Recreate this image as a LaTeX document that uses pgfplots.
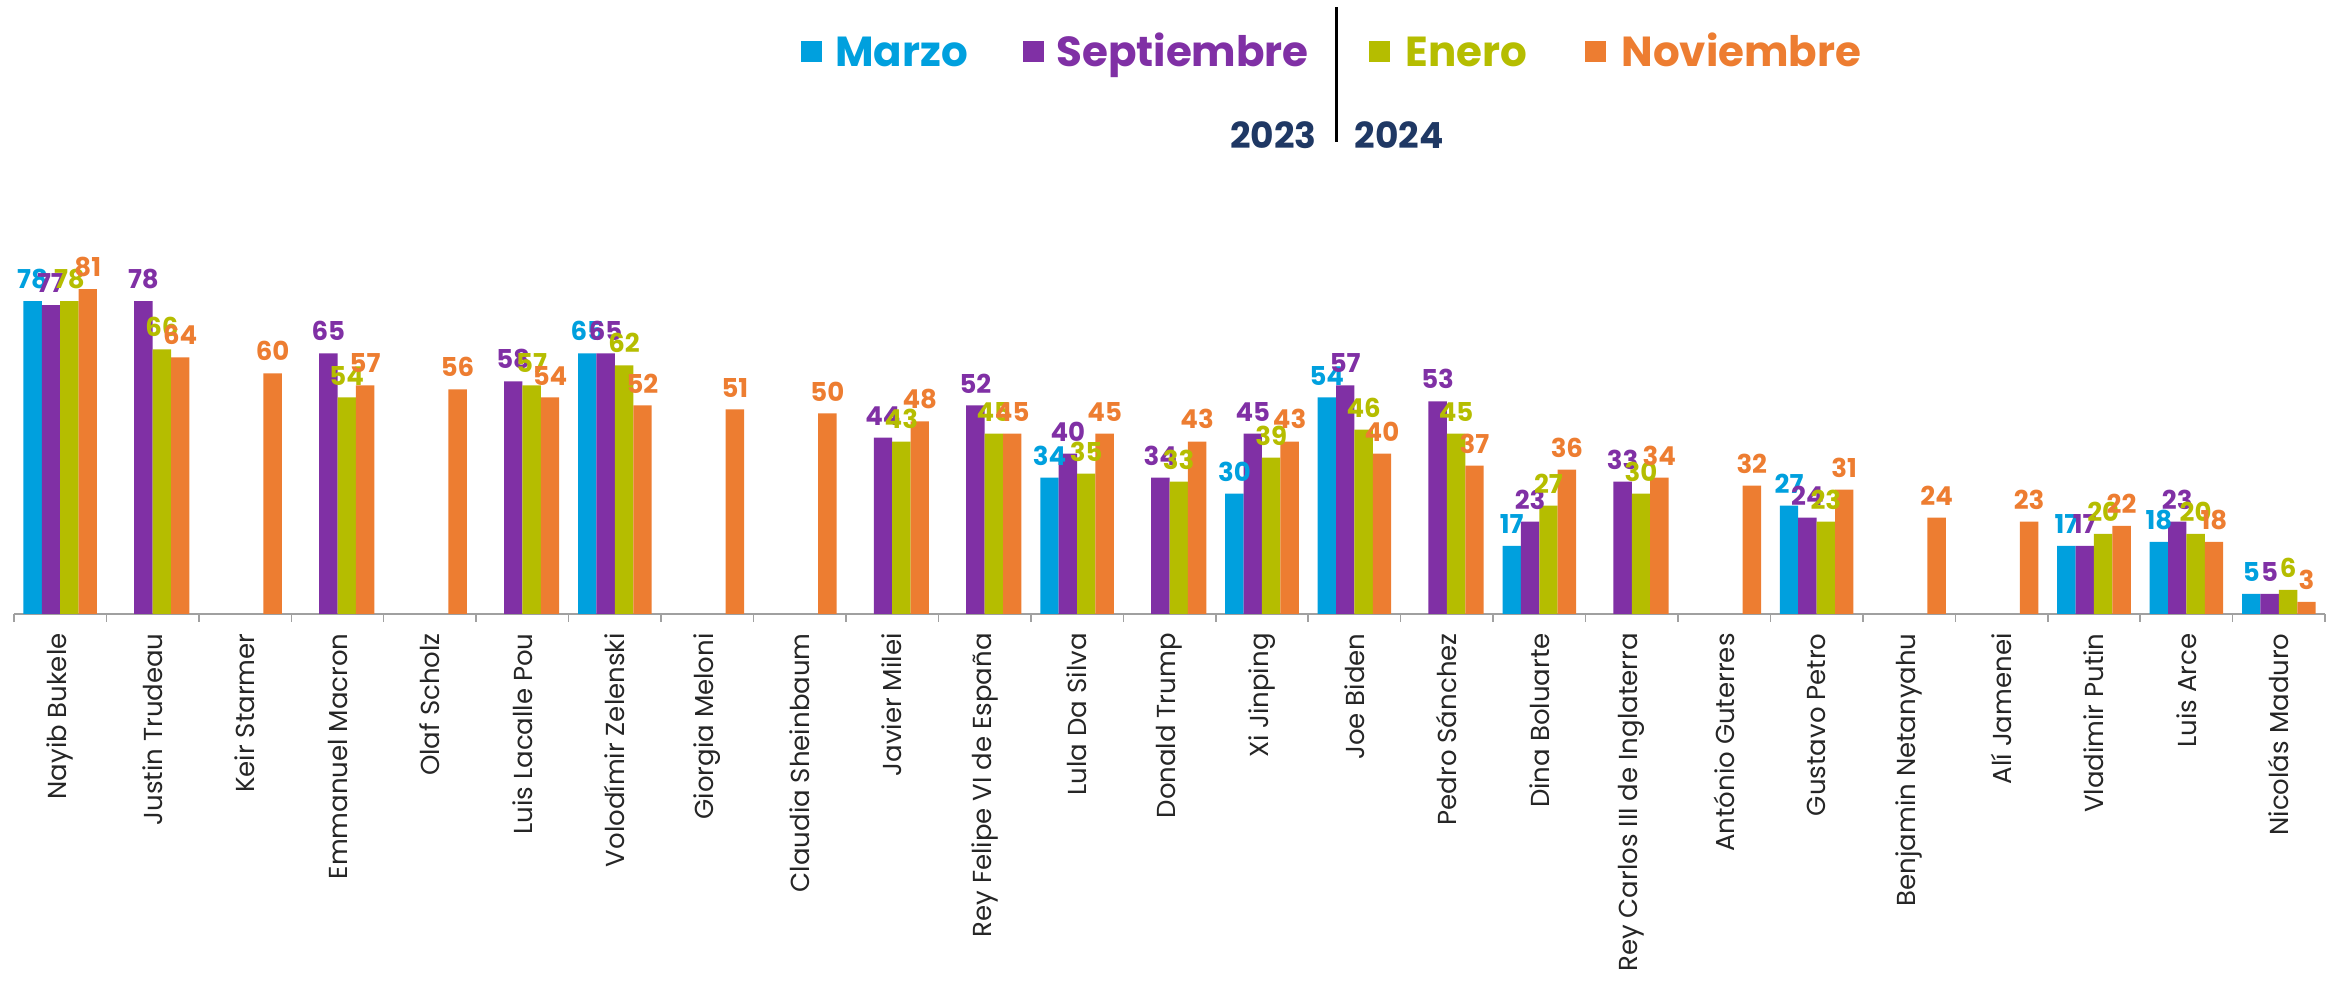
\documentclass[border=0pt]{standalone}
\usepackage{fontspec}
\setmainfont{Poppins}
\usepackage{pgfplots}
\pgfplotsset{compat=1.18}
\definecolor{marzoc}{RGB}{0,160,222}
\definecolor{septc}{RGB}{128,48,165}
\definecolor{eneroc}{RGB}{181,189,0}
\definecolor{novc}{RGB}{237,125,49}
\definecolor{navy}{RGB}{31,56,100}
\definecolor{axisgray}{RGB}{160,160,160}

\begin{document}
\begin{tikzpicture}
\begin{axis}[
    scale only axis,
    width=1155.5pt, height=200.5pt,
    xmin=-0.5, xmax=24.5, ymin=0, ymax=100,
    ybar=0pt, bar width=9.2pt,
    axis x line=bottom, axis y line=none,
    axis line style={draw=axisgray, line width=0.75pt, -},
    xtick={0,...,24},
    minor xtick={-0.5,0.5,...,24.5},
    major tick length=0pt, minor tick length=4pt,
    tick align=outside,
    tick style={draw=axisgray, line width=0.75pt},
    xticklabels={Nayib Bukele, Justin Trudeau, Keir Starmer, Emmanuel Macron, Olaf Scholz, Luis Lacalle Pou, Volodímir Zelenski, Giorgia Meloni, Claudia Sheinbaum, Javier Milei, Rey Felipe VI de España, Lula Da Silva, Donald Trump, Xi Jinping, Joe Biden, Pedro Sánchez, Dina Boluarte, Rey Carlos III de Inglaterra, António Guterres, Gustavo Petro, Benjamin Netanyahu, Alí Jamenei, Vladimir Putin, Luis Arce, Nicolás Maduro},
    xticklabel style={rotate=90, anchor=east, inner sep=0pt, font=\fontsize{13}{15}\selectfont, text=black!85},
    xticklabel shift=9.5pt,
    /pgf/number format/assume math mode=true,
    nodes near coords,
    every node near coord/.append style={font=\bfseries\fontsize{13}{15}\selectfont, anchor=south, inner sep=1pt, yshift=5pt},
    clip=false,
]
% Marzo 2023
\addplot[fill=marzoc, draw=none, every node near coord/.append style={text=marzoc}] coordinates {
    (0,78) (6,65) (11,34) (13,30) (14,54) (16,17) (19,27) (22,17) (23,18) (24,5)
};
% Septiembre 2023
\addplot[fill=septc, draw=none, every node near coord/.append style={text=septc}] coordinates {
    (0,77) (1,78) (3,65) (5,58) (6,65) (9,44) (10,52) (11,40) (12,34) (13,45)
    (14,57) (15,53) (16,23) (17,33) (19,24) (22,17) (23,23) (24,5)
};
% Enero 2024
\addplot[fill=eneroc, draw=none, every node near coord/.append style={text=eneroc}] coordinates {
    (0,78) (1,66) (3,54) (5,57) (6,62) (9,43) (10,45) (11,35) (12,33) (13,39)
    (14,46) (15,45) (16,27) (17,30) (19,23) (22,20) (23,20) (24,6)
};
% Noviembre 2024
\addplot[fill=novc, draw=none, every node near coord/.append style={text=novc}] coordinates {
    (0,81) (1,64) (2,60) (3,57) (4,56) (5,54) (6,52) (7,51) (8,50) (9,48)
    (10,45) (11,45) (12,43) (13,43) (14,40) (15,37) (16,36) (17,34) (18,32)
    (19,31) (20,24) (21,23) (22,22) (23,18) (24,3)
};

% legend
\node[fill=marzoc, minimum size=10.5pt, inner sep=0pt] at (axis cs:8.127,140.3) {};
\node[anchor=base west, inner sep=0pt, text=marzoc, font=\bfseries\fontsize{21}{24}\selectfont] at (axis cs:8.381,136.4) {Marzo};
\node[fill=septc, minimum size=10.5pt, inner sep=0pt] at (axis cs:10.529,140.3) {};
\node[anchor=base west, inner sep=0pt, text=septc, font=\bfseries\fontsize{21}{24}\selectfont] at (axis cs:10.772,136.4) {Septiembre};
\node[fill=eneroc, minimum size=10.5pt, inner sep=0pt] at (axis cs:14.272,140.3) {};
\node[anchor=base west, inner sep=0pt, text=eneroc, font=\bfseries\fontsize{21}{24}\selectfont] at (axis cs:14.548,136.4) {Enero};
\node[fill=novc, minimum size=10.5pt, inner sep=0pt] at (axis cs:16.608,140.3) {};
\node[anchor=base west, inner sep=0pt, text=novc, font=\bfseries\fontsize{21}{24}\selectfont] at (axis cs:16.884,136.4) {Noviembre};
\draw[black, line width=1.5pt] (axis cs:13.801,117.7) -- (axis cs:13.801,151.4);
\node[anchor=base east, inner sep=0pt, text=navy, font=\bfseries\fontsize{18}{21}\selectfont] at (axis cs:13.596,116.0) {2023};
\node[anchor=base west, inner sep=0pt, text=navy, font=\bfseries\fontsize{18}{21}\selectfont] at (axis cs:13.996,116.0) {2024};
\path (axis cs:-0.651,-91.5) (axis cs:24.64,153.1);
\end{axis}
\end{tikzpicture}
\end{document}
